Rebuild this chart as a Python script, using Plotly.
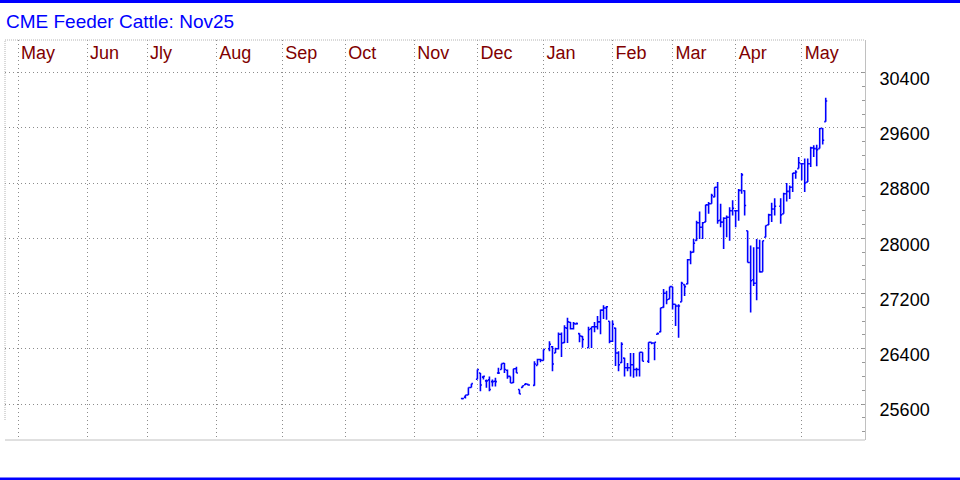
import plotly.graph_objects as go
import pandas as pd

# ---- data ----
dates = [
    "2024-11-22", "2024-11-25", "2024-11-26", "2024-11-27", "2024-11-29",
    "2024-12-02", "2024-12-03", "2024-12-04", "2024-12-05", "2024-12-06",
    "2024-12-09", "2024-12-10", "2024-12-11", "2024-12-12", "2024-12-13",
    "2024-12-16", "2024-12-17", "2024-12-18", "2024-12-19", "2024-12-20",
    "2024-12-23", "2024-12-24", "2024-12-26", "2024-12-27", "2024-12-30",
    "2024-12-31", "2025-01-02", "2025-01-03", "2025-01-06", "2025-01-07",
    "2025-01-08", "2025-01-09", "2025-01-10", "2025-01-13", "2025-01-14",
    "2025-01-15", "2025-01-16", "2025-01-17", "2025-01-21", "2025-01-22",
    "2025-01-23", "2025-01-24", "2025-01-27", "2025-01-28", "2025-01-29",
    "2025-01-30", "2025-01-31", "2025-02-03", "2025-02-04", "2025-02-05",
    "2025-02-06", "2025-02-07", "2025-02-10", "2025-02-11", "2025-02-12",
    "2025-02-13", "2025-02-14", "2025-02-18", "2025-02-19", "2025-02-20",
    "2025-02-21", "2025-02-24", "2025-02-25", "2025-02-26", "2025-02-27",
    "2025-02-28", "2025-03-03", "2025-03-04", "2025-03-05", "2025-03-06",
    "2025-03-07", "2025-03-10", "2025-03-11", "2025-03-12", "2025-03-13",
    "2025-03-14", "2025-03-17", "2025-03-18", "2025-03-19", "2025-03-20",
    "2025-03-21", "2025-03-24", "2025-03-25", "2025-03-26", "2025-03-27",
    "2025-03-28", "2025-03-31", "2025-04-01", "2025-04-02", "2025-04-03",
    "2025-04-04", "2025-04-07", "2025-04-08", "2025-04-09", "2025-04-10",
    "2025-04-11", "2025-04-14", "2025-04-15", "2025-04-16", "2025-04-17",
    "2025-04-21", "2025-04-22", "2025-04-23", "2025-04-24", "2025-04-25",
    "2025-04-28", "2025-04-29", "2025-04-30", "2025-05-01", "2025-05-02",
    "2025-05-05", "2025-05-06", "2025-05-07", "2025-05-08", "2025-05-09",
    "2025-05-12",
]
opens = [
    25680, 25700, 25730, 25840, 25960,
    26050, 25990, 25935, 25950, 25925,
    25930, 26050, 26100, 26190, 26090,
    26000, 25910, 26110, 25810, 25840,
    25880, 25885, 25870, 26160, 26245,
    26230, 26400, 26430, 26340, 26400,
    26610, 26490, 26700, 26785, 26690,
    26760, 26620, 26580, 26415, 26690,
    26720, 26720, 26790, 26960, 26990,
    26800, 26510, 26700, 26340, 26200,
    26265, 26125, 26125, 26170, 26100,
    26100, 26350, 26220, 26495, 26485,
    26610, 26645, 27000, 27205, 27120,
    27300, 27045, 27020, 27080, 27330,
    27340, 27690, 27800, 27970, 28225,
    28160, 28235, 28485, 28500, 28600,
    28740, 28260, 28235, 28290, 28305,
    28400, 28400, 28400, 28695, 28690,
    28110, 27650, 27400, 27350, 27860,
    27515, 28015, 28195, 28340, 28425,
    28465, 28355, 28645, 28680, 28740,
    28945, 29010, 29080, 29080, 28815,
    29080, 29310, 29300, 29300, 29590,
    29690,
]
highs = [
    25690, 25730, 25840, 25895, 26100,
    26050, 26010, 25955, 26000, 25955,
    25980, 26125, 26185, 26195, 26100,
    26000, 26110, 26140, 25810, 25865,
    25905, 25885, 26220, 26255, 26255,
    26390, 26510, 26440, 26415, 26635,
    26635, 26740, 26850, 26790, 26790,
    26780, 26625, 26585, 26720, 26720,
    26790, 26875, 26970, 27030, 27020,
    26800, 26810, 26705, 26365, 26495,
    26270, 26195, 26340, 26340, 26125,
    26350, 26350, 26495, 26495, 26495,
    26635, 26995, 27265, 27240, 27300,
    27300, 27045, 27045, 27370, 27335,
    27700, 27820, 27990, 28255, 28390,
    28235, 28485, 28525, 28645, 28740,
    28815, 28500, 28305, 28330, 28450,
    28550, 28400, 28715, 28945, 28695,
    28110, 27895, 27870, 27990, 27980,
    27965, 28185, 28355, 28515, 28580,
    28580, 28660, 28800, 28765, 28945,
    28985, 29180, 29080, 29155, 29155,
    29325, 29350, 29355, 29600, 29600,
    30035,
]
lows = [
    25665, 25680, 25730, 25840, 25960,
    25785, 25955, 25835, 25785, 25855,
    25855, 26035, 26100, 26050, 25965,
    25905, 25905, 26050, 25745, 25835,
    25875, 25865, 25865, 26160, 26205,
    26230, 26365, 26075, 26340, 26390,
    26280, 26485, 26485, 26680, 26680,
    26755, 26495, 26415, 26415, 26410,
    26640, 26680, 26610, 26830, 26820,
    26480, 26500, 26150, 26075, 26195,
    26000, 26075, 26000, 25980, 26000,
    26000, 26220, 26195, 26465, 26235,
    26610, 26640, 26995, 27045, 27120,
    26970, 26730, 26560, 27080, 27165,
    27335, 27625, 27795, 27965, 27990,
    27990, 28235, 28355, 28500, 28595,
    28210, 28160, 27845, 28015, 27965,
    28330, 28160, 28255, 28645, 28330,
    27650, 26925, 27310, 27105, 27505,
    27515, 28015, 28195, 28235, 28330,
    28210, 28355, 28535, 28570, 28670,
    28865, 29010, 28840, 28670, 28815,
    29035, 29180, 29045, 29300, 29360,
    29690,
]
closes = [
    25680, 25730, 25840, 25895, 26100,
    25875, 26000, 25935, 25810, 25925,
    25925, 26050, 26185, 26100, 26000,
    25905, 26110, 26050, 25745, 25865,
    25890, 25875, 26180, 26245, 26235,
    26390, 26465, 26180, 26400, 26610,
    26485, 26705, 26790, 26690, 26765,
    26765, 26585, 26535, 26680, 26720,
    26720, 26790, 26960, 26990, 27010,
    26510, 26755, 26340, 26170, 26465,
    26125, 26125, 26170, 26100, 26100,
    26350, 26220, 26495, 26485, 26495,
    26620, 26995, 27205, 27110, 27300,
    27045, 27020, 27020, 27350, 27300,
    27690, 27795, 27930, 28225, 28160,
    28225, 28485, 28500, 28620, 28740,
    28255, 28235, 28290, 28305, 28400,
    28435, 28400, 28695, 28920, 28475,
    27650, 27385, 27350, 27860, 27515,
    27965, 28185, 28340, 28425, 28465,
    28340, 28645, 28680, 28740, 28945,
    28960, 29095, 29080, 28800, 29080,
    29310, 29300, 29285, 29590, 29420,
    29990,
]

month_starts = ["2024-05-01", "2024-06-01", "2024-07-01", "2024-08-01", "2024-09-01",
                "2024-10-01", "2024-11-01", "2024-12-01", "2025-01-01", "2025-02-01",
                "2025-03-01", "2025-04-01", "2025-05-01"]
month_labels = ["May", "Jun", "Jly", "Aug", "Sep", "Oct", "Nov", "Dec",
                "Jan", "Feb", "Mar", "Apr", "May"]
price_tick0 = 25600
price_dtick = 800

# ---- figure ----
tick_pos = [pd.offsets.BDay().rollforward(pd.Timestamp(d)).strftime("%Y-%m-%d")
            for d in month_starts]

FONT = "Liberation Sans, Arial, sans-serif"
GRID = "#8c8c8c"

fig = go.Figure(go.Ohlc(
    x=dates, open=opens, high=highs, low=lows, close=closes,
    xperiod=86400000, xperiodalignment="end",
    increasing=dict(line=dict(color="#0000ff", width=1.6)),
    decreasing=dict(line=dict(color="#0000ff", width=1.6)),
    tickwidth=0.5,
    hoverinfo="skip",
))

fig.update_layout(
    width=960, height=480,
    margin=dict(l=5, r=95, t=40, b=40, pad=0),
    paper_bgcolor="white", plot_bgcolor="white",
    showlegend=False,
    font=dict(family=FONT),
    title=dict(text="CME Feeder Cattle: Nov25", xref="container", yref="container",
               x=6 / 960, xanchor="left", y=1 - 21 / 480, yanchor="middle",
               font=dict(family=FONT, size=19, color="#0000ff")),
    xaxis=dict(
        type="date",
        range=["2024-04-24 16:00", "2025-05-30 02:00"],
        rangebreaks=[dict(bounds=["sat", "mon"])],
        rangeslider=dict(visible=False),
        side="top",
        tickmode="array", tickvals=tick_pos, ticktext=month_labels,
        ticks="", ticklabelposition="inside right", ticklabelshift=3,
        tickfont=dict(family=FONT, size=18, color="#800000"),
        showgrid=True, gridcolor=GRID, griddash="1px,3px", gridwidth=1,
        showline=False, zeroline=False,
    ),
    yaxis=dict(
        side="right",
        range=[25079, 30873],
        tickmode="linear", tick0=price_tick0, dtick=price_dtick, tickformat="d",
        ticks="inside", ticklen=3, tickcolor="#999999",
        minor=dict(tickmode="linear", tick0=price_tick0, dtick=200,
                   ticks="inside", ticklen=3, tickcolor="#999999", showgrid=False),
        tickfont=dict(family=FONT, size=18, color="black"),
        ticklabelshift=6, ticklabelstandoff=10,
        showgrid=True, gridcolor=GRID, griddash="1px,3px", gridwidth=1,
        showline=True, linecolor="#c0c0c0", linewidth=1,
        zeroline=False,
    ),
    shapes=[
        # frame
        dict(type="line", xref="paper", yref="paper", x0=0, x1=1, y0=1, y1=1,
             line=dict(color="#b4b4b4", width=1, dash="1px,1px")),
        dict(type="line", xref="paper", yref="paper", x0=0, x1=0, y0=0.05, y1=1,
             line=dict(color="#b4b4b4", width=1, dash="1px,1px")),
        dict(type="line", xref="paper", yref="paper", x0=0, x1=1, y0=0, y1=0,
             line=dict(color="#c0c0c0", width=1)),
        # blue bands at top and bottom of the image
        dict(type="rect", xref="paper", yref="paper", x0=-0.01, x1=1.12,
             y0=1.1 - 3 / 400, y1=1.1, fillcolor="#0000ff", line=dict(width=0)),
        dict(type="rect", xref="paper", yref="paper", x0=-0.01, x1=1.12,
             y0=-0.1, y1=-0.1 + 2.5 / 400, fillcolor="#0000ff", line=dict(width=0)),
    ],
)

fig.write_html("out.html",
               config={"displayModeBar": False, "staticPlot": True},
               post_script="document.body.style.margin='0';"
                           "document.body.style.overflow='hidden';")
